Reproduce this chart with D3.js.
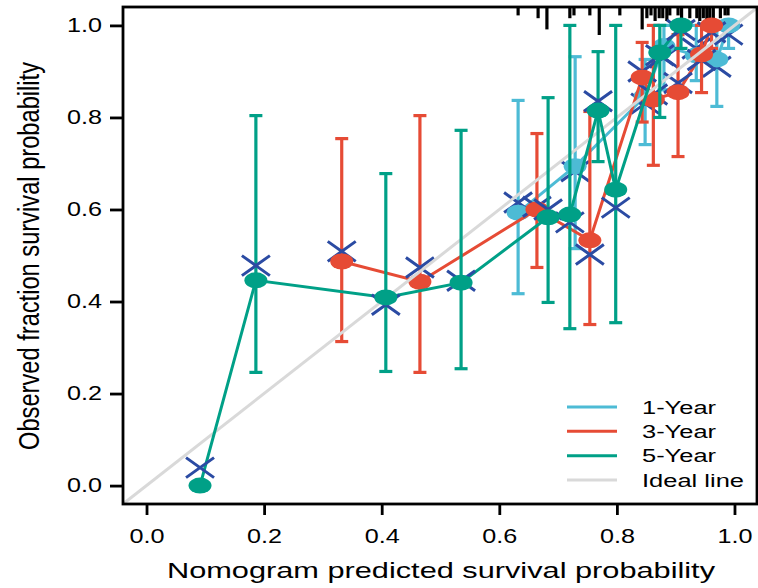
<!DOCTYPE html>
<html><head><meta charset="utf-8">
<script src="https://cdn.jsdelivr.net/npm/d3@7"></script>
<style>
body{margin:0;background:#fff}
svg{display:block}
text{font-family:"Liberation Sans",Arial,sans-serif;fill:#000}
</style>
</head><body>
<svg id="chart" width="758" height="588"></svg>
<script>
// ---------- data ----------
const xTickValues = [0, 0.2, 0.4, 0.6, 0.8, 1.0];
const yTickValues = [0, 0.2, 0.4, 0.6, 0.8, 1.0];
const seriesNames = ["1-Year", "3-Year", "5-Year"];
const legendLabels = ["1-Year", "3-Year", "5-Year", "Ideal line"];

// 1-Year
const pred1 = [0.632, 0.729, 0.848, 0.880, 0.935, 0.970, 0.990];
const obs1  = [0.593, 0.694, 0.846, 0.955, 0.935, 0.926, 1.000];
const lo1   = [0.417, 0.515, 0.741, 0.860, 0.880, 0.824, 0.950];
const hi1   = [0.837, 0.932, 0.926, 1.000, 1.000, 1.000, 1.000];
const bc1   = [0.615, 0.683, 0.830, 0.930, 0.950, 0.910, 0.980];

// 3-Year
const pred3 = [0.332, 0.465, 0.664, 0.754, 0.843, 0.862, 0.904, 0.944, 0.961];
const obs3  = [0.487, 0.443, 0.600, 0.533, 0.887, 0.839, 0.855, 0.937, 1.000];
const lo3   = [0.313, 0.246, 0.474, 0.350, 0.790, 0.696, 0.715, 0.854, 0.950];
const hi3   = [0.754, 0.804, 0.765, 0.813, 0.963, 1.000, 0.980, 1.000, 1.000];
const bc3   = [0.509, 0.474, 0.606, 0.502, 0.900, 0.850, 0.875, 0.925, 0.985];

// 5-Year
const pred5 = [0.091, 0.186, 0.407, 0.535, 0.683, 0.720, 0.768, 0.798, 0.873, 0.909];
const obs5  = [0.000, 0.446, 0.409, 0.441, 0.583, 0.589, 0.815, 0.643, 0.941, 1.000];
const lo5   = [null, 0.246, 0.248, 0.254, 0.398, 0.341, 0.704, 0.354, 0.800, 0.950];
const hi5   = [null, 0.804, 0.678, 0.772, 0.843, 1.000, 0.943, 1.000, 1.000, 1.000];
const bc5   = [0.039, 0.478, 0.393, 0.445, 0.600, 0.572, 0.835, 0.604, 0.935, 0.990];

// distribution of predicted probabilities (rug at top)
const rugPred  = [0.632, 0.666, 0.681, 0.720, 0.727, 0.754, 0.770, 0.805, 0.843, 0.851, 0.858, 0.865, 0.872, 0.878,
                  0.885, 0.890, 0.904, 0.910, 0.924, 0.936, 0.941, 0.947, 0.953, 0.958, 0.964, 0.976, 0.984, 0.989];
const rugCount = [3, 4, 8, 4, 3, 3, 10, 3, 8, 4, 3, 5, 4, 4,
                  5, 3, 3, 4, 4, 4, 5, 4, 5, 4, 4, 4, 3, 3];

// ---------- build ----------
const colors = {"1-Year": "#4DBBD5", "3-Year": "#E64B35", "5-Year": "#00A087", "Ideal line": "#D9D9D9"};
const bcColor = "#2B4BA3";

const series = [
  {name: "1-Year", pred: pred1, obs: obs1, lo: lo1, hi: hi1, bc: bc1},
  {name: "3-Year", pred: pred3, obs: obs3, lo: lo3, hi: hi3, bc: bc3},
  {name: "5-Year", pred: pred5, obs: obs5, lo: lo5, hi: hi5, bc: bc5}
].map(s => ({name: s.name, pts: s.pred.map((p, i) => ({x: p, y: s.obs[i], lo: s.lo[i], hi: s.hi[i], bc: s.bc[i]}))}));

const svg = d3.select("#chart");
const L = 123, R = 757, T = 7, B = 504;
const x = d3.scaleLinear().domain([-0.04, 1.04]).range([L, L + (R - L + 1)]);
const y = d3.scaleLinear().domain([-0.04, 1.04]).range([B, T]);

svg.append("defs").append("clipPath").attr("id", "clip")
  .append("rect").attr("x", L).attr("y", T).attr("width", R - L).attr("height", B - T);

const plot = svg.append("g").attr("clip-path", "url(#clip)");

// rug
const rugLen = d3.scaleLinear().domain([0, 10]).range([0, 28]);
plot.append("g").selectAll("line").data(rugPred).join("line")
  .attr("x1", d => x(d)).attr("x2", d => x(d))
  .attr("y1", T).attr("y2", (d, i) => T + rugLen(rugCount[i]))
  .attr("stroke", "#000").attr("stroke-width", 3.2);

const line = d3.line().x(d => x(d.x)).y(d => y(d.y));

function drawSeries(s) {
  const g = plot.append("g");
  const c = colors[s.name];
  g.append("path").datum(s.pts).attr("d", line)
    .attr("fill", "none").attr("stroke", c).attr("stroke-width", 3);
  const eb = s.pts.filter(d => d.lo != null);
  const ebg = g.append("g").attr("stroke", c).attr("stroke-width", 3.2);
  ebg.selectAll(".v").data(eb).join("line")
    .attr("x1", d => x(d.x)).attr("x2", d => x(d.x))
    .attr("y1", d => y(d.lo)).attr("y2", d => y(d.hi));
  ebg.selectAll(".t").data(eb).join("line")
    .attr("x1", d => x(d.x) - 6.5).attr("x2", d => x(d.x) + 6.5)
    .attr("y1", d => y(d.hi)).attr("y2", d => y(d.hi));
  ebg.selectAll(".b").data(eb).join("line")
    .attr("x1", d => x(d.x) - 6.5).attr("x2", d => x(d.x) + 6.5)
    .attr("y1", d => y(d.lo)).attr("y2", d => y(d.lo));
  // bias-corrected X markers
  g.append("g").selectAll("path").data(s.pts).join("path")
    .attr("d", d => {
      const cx = x(d.x), cy = y(d.bc), hw = 14, hh = 10;
      return `M${cx - hw},${cy - hh}L${cx + hw},${cy + hh}M${cx - hw},${cy + hh}L${cx + hw},${cy - hh}`;
    })
    .attr("stroke", bcColor).attr("stroke-width", 3).attr("fill", "none");
  // points
  g.append("g").selectAll("ellipse").data(s.pts).join("ellipse")
    .attr("cx", d => x(d.x)).attr("cy", d => y(d.y))
    .attr("rx", 11.5).attr("ry", 8).attr("fill", c);
}

drawSeries(series[0]);
drawSeries(series[1]);
// ideal line
plot.append("line")
  .attr("x1", x(-0.04)).attr("y1", y(-0.04)).attr("x2", x(1.04)).attr("y2", y(1.04))
  .attr("stroke", colors["Ideal line"]).attr("stroke-width", 3);
drawSeries(series[2]);

// frame
svg.append("rect").attr("x", L).attr("y", T).attr("width", R - L).attr("height", B - T)
  .attr("fill", "none").attr("stroke", "#000").attr("stroke-width", 2.8);

// axes
const xAxis = svg.append("g").attr("transform", `translate(0,${B})`)
  .call(d3.axisBottom(x).tickValues(xTickValues).tickSize(11).tickPadding(14).tickFormat(d3.format(".1f")));
xAxis.select(".domain").remove();
xAxis.selectAll(".tick line").attr("stroke", "#000").attr("stroke-width", 2.8);
xAxis.selectAll(".tick text").attr("font-size", 19.5).attr("font-family", "Liberation Sans, Arial, sans-serif")
  .attr("textLength", 35).attr("lengthAdjust", "spacingAndGlyphs").attr("dy", "0.71em").attr("y", 25);

const yAxis = svg.append("g").attr("transform", `translate(${L},0)`)
  .call(d3.axisLeft(y).tickValues(yTickValues).tickSize(13).tickPadding(8).tickFormat(d3.format(".1f")));
yAxis.select(".domain").remove();
yAxis.selectAll(".tick line").attr("stroke", "#000").attr("stroke-width", 2.8);
yAxis.selectAll(".tick text").attr("font-size", 19.5).attr("font-family", "Liberation Sans, Arial, sans-serif")
  .attr("textLength", 35).attr("lengthAdjust", "spacingAndGlyphs").attr("x", -21);

// axis titles
svg.append("text").attr("x", 441).attr("y", 578).attr("text-anchor", "middle")
  .attr("font-size", 22.5).attr("textLength", 548).attr("lengthAdjust", "spacingAndGlyphs")
  .text("Nomogram predicted survival probability");
svg.append("text").attr("transform", "translate(39,256) scale(1.38,1) rotate(-90)")
  .attr("text-anchor", "middle").attr("font-size", 22).attr("textLength", 388).attr("lengthAdjust", "spacingAndGlyphs")
  .text("Observed fraction survival probability");

// legend
const leg = svg.append("g");
const legY = d3.scalePoint().domain(legendLabels).range([407, 480]);
legendLabels.forEach(name => {
  leg.append("line").attr("x1", 567).attr("x2", 617).attr("y1", legY(name)).attr("y2", legY(name))
    .attr("stroke", colors[name]).attr("stroke-width", 3);
  leg.append("text").attr("x", 642).attr("y", legY(name) + 6.5).attr("font-size", 17.5)
    .attr("textLength", name === "Ideal line" ? 102 : 74).attr("lengthAdjust", "spacingAndGlyphs")
    .text(name);
});
</script>
</body></html>
